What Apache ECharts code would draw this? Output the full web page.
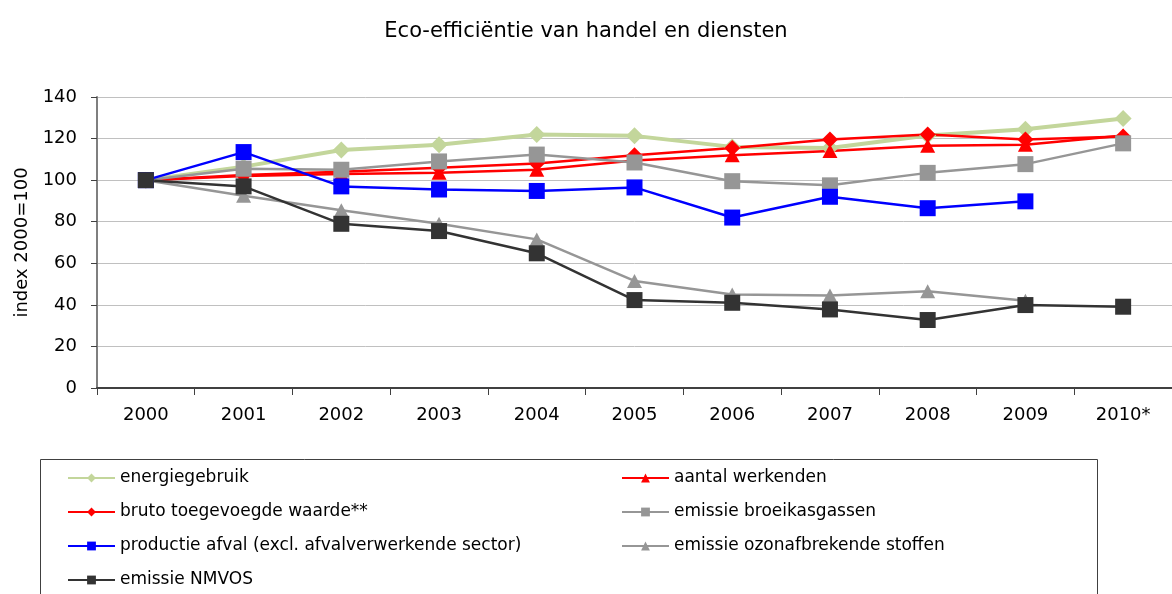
<!DOCTYPE html>
<html>
<head>
<meta charset="utf-8">
<script src="https://cdn.jsdelivr.net/npm/echarts@6/dist/echarts.min.js"></script>
<style>
  html, body { margin: 0; padding: 0; background: #ffffff; }
  #chart { width: 1172px; height: 594px; }
</style>
</head>
<body>
<div id="chart"></div>
<script>
// Jaren (2010 voorlopig)
const years = ['2000', '2001', '2002', '2003', '2004', '2005', '2006', '2007', '2008', '2009', '2010*'];

// Indexcijfers, 2000 = 100
const energiegebruik = [100, 106.5, 114.5, 117, 122, 121.3, 116, 115.5, 121.5, 124.5, 129.7];
const aantalWerkenden = [100, 102, 103, 103.5, 105, 109.5, 112, 114, 116.5, 117, 121.5];
const brutoToegevoegdeWaarde = [100, 102.5, 104, 106, 108, 112, 115.5, 119.5, 122, 119.5, 121];
const emissieBroeikasgassen = [100, 105.5, 105, 109, 112.3, 108.5, 99.5, 97.5, 103.5, 107.7, 117.7];
const productieAfval = [100, 113.5, 97, 95.5, 94.8, 96.5, 82, 92, 86.5, 89.8, null];
const emissieOzon = [100, 92.5, 85.5, 79, 71.5, 51.5, 45, 44.5, 46.5, 42, null];
const emissieNmvos = [100, 97, 79, 75.5, 64.8, 42.3, 41, 37.8, 32.7, 39.9, 39.1];

const yTicks = { min: 0, max: 140, interval: 20 };

const FONT = 'DejaVu Sans';

function line(name, data, color, symbol, size, width) {
  return {
    name: name,
    type: 'line',
    data: data,
    symbol: symbol,
    symbolSize: size,
    showSymbol: true,
    connectNulls: false,
    animation: false,
    lineStyle: { color: color, width: width },
    itemStyle: { color: color },
    emphasis: { disabled: true }
  };
}

const chart = echarts.init(document.getElementById('chart'), null, { renderer: 'canvas' });

const legendCommon = {
  orient: 'vertical',
  itemWidth: 47,
  itemHeight: 11,
  itemGap: 12,
  selectedMode: false,
  padding: 0,
  textStyle: { fontFamily: FONT, fontSize: 17, color: '#000000', lineHeight: 22 }
};

chart.setOption({
  backgroundColor: '#ffffff',
  textStyle: { fontFamily: FONT },
  title: {
    text: 'Eco-efficiëntie van handel en diensten',
    left: 'center',
    top: 16,
    textStyle: { fontFamily: FONT, fontSize: 21, fontWeight: 'normal', color: '#000000' }
  },
  graphic: [{
    type: 'rect',
    shape: { x: 40.5, y: 459.5, width: 1057, height: 200 },
    style: { fill: 'none', stroke: '#404040', lineWidth: 1 },
    silent: true,
    z: 0
  }],
  legend: [
    Object.assign({}, legendCommon, {
      left: 67, top: 467,
      data: ['energiegebruik', 'bruto toegevoegde waarde**', 'productie afval (excl. afvalverwerkende sector)', 'emissie NMVOS']
    }),
    Object.assign({}, legendCommon, {
      left: 621, top: 467,
      data: ['aantal werkenden', 'emissie broeikasgassen', 'emissie ozonafbrekende stoffen']
    })
  ],
  grid: { left: 97, top: 97, width: 1085, height: 291, containLabel: false },
  xAxis: {
    type: 'category',
    data: years,
    boundaryGap: true,
    axisLine: { lineStyle: { color: '#404040', width: 2 } },
    axisTick: { show: true, interval: 0, length: 7, lineStyle: { color: '#404040', width: 1 } },
    axisLabel: { interval: 0, margin: 18, fontFamily: FONT, fontSize: 18, color: '#000000' },
    splitLine: { show: false }
  },
  yAxis: {
    type: 'value',
    min: yTicks.min,
    max: yTicks.max,
    interval: yTicks.interval,
    name: 'index 2000=100',
    nameLocation: 'middle',
    nameRotate: 90,
    nameGap: 66,
    nameTextStyle: { fontFamily: FONT, fontSize: 18, color: '#000000' },
    axisLine: { show: true, lineStyle: { color: '#7f7f7f', width: 2 } },
    axisTick: { show: true, length: 6, lineStyle: { color: '#404040', width: 1 } },
    axisLabel: { margin: 20, fontFamily: FONT, fontSize: 18, color: '#000000' },
    splitLine: { show: true, lineStyle: { color: '#c0c0c0', width: 1 } }
  },
  series: [
    line('energiegebruik', energiegebruik, '#c3d69b', 'diamond', 17, 4),
    line('aantal werkenden', aantalWerkenden, '#ff0000', 'triangle', [15, 14], 2.5),
    line('bruto toegevoegde waarde**', brutoToegevoegdeWaarde, '#ff0000', 'diamond', 16, 2.5),
    line('emissie broeikasgassen', emissieBroeikasgassen, '#969696', 'rect', 16, 2.5),
    line('productie afval (excl. afvalverwerkende sector)', productieAfval, '#0000ff', 'rect', 16, 2.5),
    line('emissie ozonafbrekende stoffen', emissieOzon, '#969696', 'triangle', [15, 14], 2.5),
    line('emissie NMVOS', emissieNmvos, '#333333', 'rect', 16, 2.5)
  ]
});
</script>
</body>
</html>
